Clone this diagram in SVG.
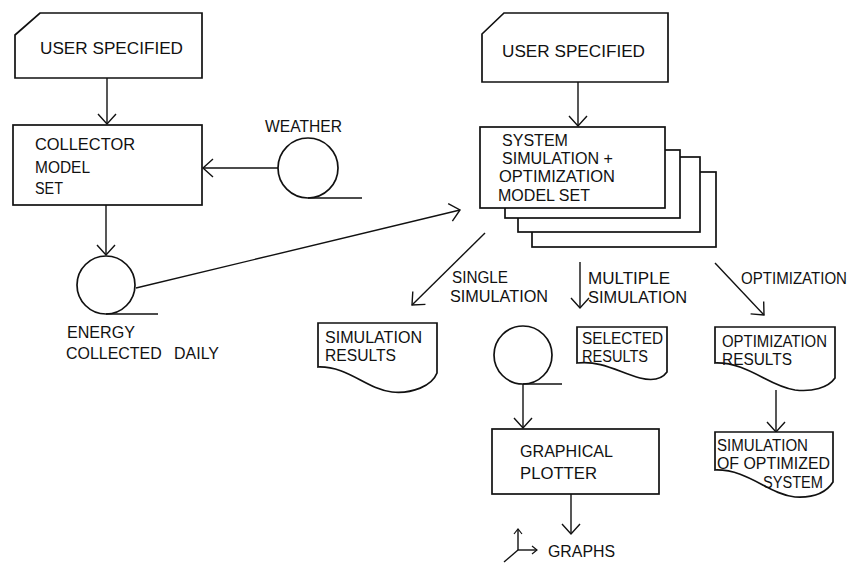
<svg xmlns="http://www.w3.org/2000/svg" width="853" height="563" viewBox="0 0 853 563">
<style>
  .s { fill: #fff; stroke: #111; stroke-width: 1.7; stroke-linejoin: miter; }
  .c { fill: none; stroke: #111; stroke-width: 1.4; }
  text { font-family: "Liberation Sans", Arial, sans-serif; font-size: 16px; fill: #111; }
</style>
<defs>
  <marker id="arr" markerUnits="userSpaceOnUse" markerWidth="24" markerHeight="24" viewBox="-12 -12 24 24" refX="0" refY="0" orient="auto">
    <path d="M-10,-9 L0,0 L-10,9" fill="none" stroke="#111" stroke-width="1.4"/>
  </marker>
  <marker id="arrs" markerUnits="userSpaceOnUse" markerWidth="12" markerHeight="12" viewBox="-6 -6 12 12" refX="0" refY="0" orient="auto">
    <path d="M-5,-4 L0,0 L-5,4" fill="none" stroke="#111" stroke-width="1.2"/>
  </marker>
</defs>
<rect width="853" height="563" fill="#fff"/>

<g id="connectors">
  <line class="c" x1="107" y1="78" x2="107" y2="124" marker-end="url(#arr)"/>
  <line class="c" x1="278" y1="168" x2="203" y2="168" marker-end="url(#arr)"/>
  <line class="c" x1="106" y1="205" x2="106" y2="255" marker-end="url(#arr)"/>
  <line class="c" x1="136" y1="288" x2="460" y2="210" marker-end="url(#arr)"/>
  <line class="c" x1="578" y1="82" x2="578" y2="126" marker-end="url(#arr)"/>
  <line class="c" x1="485" y1="233" x2="412" y2="305" marker-end="url(#arr)"/>
  <line class="c" x1="580" y1="262" x2="580" y2="308" marker-end="url(#arr)"/>
  <line class="c" x1="715" y1="263" x2="764" y2="315" marker-end="url(#arr)"/>
  <line class="c" x1="523" y1="384" x2="523" y2="428" marker-end="url(#arr)"/>
  <line class="c" x1="776" y1="390" x2="776" y2="432" marker-end="url(#arr)"/>
  <line class="c" x1="571" y1="494" x2="571" y2="534" marker-end="url(#arr)"/>
</g>

<g id="user-specified-1">
  <path class="s" d="M40,13 H202 V78 H15 V35 Z"/>
  <text x="40" y="54" textLength="143" lengthAdjust="spacingAndGlyphs">USER SPECIFIED</text>
</g>

<g id="collector-model-set">
  <rect class="s" x="13" y="125" width="189" height="80"/>
  <text x="35" y="150" textLength="100" lengthAdjust="spacingAndGlyphs">COLLECTOR</text>
  <text x="35" y="173" textLength="55" lengthAdjust="spacingAndGlyphs">MODEL</text>
  <text x="35" y="194" textLength="28" lengthAdjust="spacingAndGlyphs">SET</text>
</g>

<g id="weather">
  <circle class="s" cx="308" cy="168" r="30"/>
  <line class="c" x1="308" y1="198" x2="362" y2="198"/>
  <text x="265" y="132" textLength="77" lengthAdjust="spacingAndGlyphs">WEATHER</text>
</g>

<g id="energy-collected-daily">
  <circle class="s" cx="106" cy="285" r="29"/>
  <line class="c" x1="106" y1="314" x2="158" y2="314"/>
  <text x="67" y="338" textLength="68" lengthAdjust="spacingAndGlyphs">ENERGY</text>
  <text x="66" y="359" textLength="153" lengthAdjust="spacingAndGlyphs" word-spacing="8">COLLECTED DAILY</text>
</g>

<g id="user-specified-2">
  <path class="s" d="M504,13 H668 V82 H482 V34 Z"/>
  <text x="502" y="57" textLength="143" lengthAdjust="spacingAndGlyphs">USER SPECIFIED</text>
</g>

<g id="system-model-set">
  <rect class="s" x="532" y="172" width="184" height="75"/>
  <rect class="s" x="518" y="157" width="182" height="75"/>
  <rect class="s" x="505" y="150" width="175" height="68"/>
  <rect class="s" x="480" y="127" width="185" height="81"/>
  <text x="502" y="146" textLength="66" lengthAdjust="spacingAndGlyphs">SYSTEM</text>
  <text x="502" y="164" textLength="111" lengthAdjust="spacingAndGlyphs">SIMULATION +</text>
  <text x="499" y="182" textLength="116" lengthAdjust="spacingAndGlyphs">OPTIMIZATION</text>
  <text x="498" y="201" textLength="92" lengthAdjust="spacingAndGlyphs">MODEL SET</text>
</g>

<g id="labels">
  <text x="452" y="283" textLength="56" lengthAdjust="spacingAndGlyphs">SINGLE</text>
  <text x="450" y="302" textLength="98" lengthAdjust="spacingAndGlyphs">SIMULATION</text>
  <text x="588" y="284" textLength="82" lengthAdjust="spacingAndGlyphs">MULTIPLE</text>
  <text x="588" y="303" textLength="99" lengthAdjust="spacingAndGlyphs">SIMULATION</text>
  <text x="741" y="284" textLength="106" lengthAdjust="spacingAndGlyphs">OPTIMIZATION</text>
</g>

<g id="simulation-results">
  <path class="s" d="M318,323 H437 V373 C432,386 412,394 392,392 C366,389 348,366 318,367 Z"/>
  <text x="325" y="343" textLength="97" lengthAdjust="spacingAndGlyphs">SIMULATION</text>
  <text x="325" y="361" textLength="71" lengthAdjust="spacingAndGlyphs">RESULTS</text>
</g>

<g id="selected-results">
  <path class="s" d="M577,327 H667 V372 C662,379 652,381 640,378 C620,373 602,360 577,363 Z"/>
  <text x="582" y="344" textLength="81" lengthAdjust="spacingAndGlyphs">SELECTED</text>
  <text x="582" y="362" textLength="66" lengthAdjust="spacingAndGlyphs">RESULTS</text>
</g>

<g id="plotter-circle">
  <circle class="s" cx="523" cy="355" r="29"/>
  <line class="c" x1="523" y1="384" x2="562" y2="384"/>
</g>

<g id="graphical-plotter">
  <rect class="s" x="492" y="429" width="167" height="65"/>
  <text x="520" y="457" textLength="93" lengthAdjust="spacingAndGlyphs">GRAPHICAL</text>
  <text x="520" y="479" textLength="77" lengthAdjust="spacingAndGlyphs">PLOTTER</text>
</g>

<g id="graphs">
  <line class="c" x1="518" y1="550" x2="518" y2="529" marker-end="url(#arrs)"/>
  <line class="c" x1="518" y1="550" x2="537" y2="550" marker-end="url(#arrs)"/>
  <line class="c" x1="518" y1="550" x2="504" y2="562"/>
  <text x="548" y="557" textLength="67" lengthAdjust="spacingAndGlyphs">GRAPHS</text>
</g>

<g id="optimization-results">
  <path class="s" d="M715,327 H835 V378 C828,388 812,392 795,390 C768,386 748,362 715,363 Z"/>
  <text x="722" y="347" textLength="105" lengthAdjust="spacingAndGlyphs">OPTIMIZATION</text>
  <text x="722" y="365" textLength="70" lengthAdjust="spacingAndGlyphs">RESULTS</text>
</g>

<g id="simulation-of-optimized-system">
  <path class="s" d="M715,432 H833 V482 C826,493 812,498 795,497 C768,494 748,469 715,470 Z"/>
  <text x="717" y="451" textLength="91" lengthAdjust="spacingAndGlyphs">SIMULATION</text>
  <text x="717" y="469" textLength="113" lengthAdjust="spacingAndGlyphs">OF OPTIMIZED</text>
  <text x="763" y="488" textLength="60" lengthAdjust="spacingAndGlyphs">SYSTEM</text>
</g>
</svg>
